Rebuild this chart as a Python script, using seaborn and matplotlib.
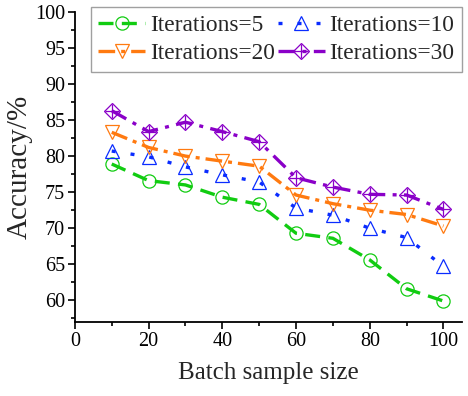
import numpy as np
import pandas as pd
import matplotlib
matplotlib.use("Agg")
import matplotlib.pyplot as plt
import seaborn as sns
from matplotlib.legend_handler import HandlerTuple

batch_size = [10, 20, 30, 40, 50, 60, 70, 80, 90, 100]
acc_iter5 = [78.9, 76.6, 76.0, 74.3, 73.3, 69.3, 68.6, 65.6, 61.6, 59.9]
acc_iter10 = [80.7, 79.9, 78.5, 77.4, 76.4, 72.8, 71.8, 70.0, 68.7, 64.7]
acc_iter20 = [83.3, 81.2, 80.0, 79.3, 78.6, 74.6, 73.4, 72.5, 71.9, 70.3]
acc_iter30 = [86.3, 83.4, 84.7, 83.4, 82.0, 77.0, 75.7, 74.7, 74.6, 72.6]
labels = ["Iterations=5", "Iterations=10", "Iterations=20", "Iterations=30"]

sns.set_style("ticks")
plt.rcParams['font.family'] = ['Liberation Serif', 'DejaVu Serif']

fig = plt.figure(figsize=(4.68, 3.96), dpi=100)
ax = fig.add_axes([0.160, 0.187, 0.827, 0.783])

series = [acc_iter5, acc_iter10, acc_iter20, acc_iter30]
colors = ["#11CC11", "#0A2CFF", "#FF7A10", "#8A00C8"]
markers = ["o", "^", "v", "D"]
msizes = [9.5, 9.5, 9.5, 8]
dashes = [(4.5, 2.5), (1.2, 4.5), (5, 1.8, 1.2, 1.8), (5, 2.2, 1.2, 2.2)]

handles = []
for i, (vals, lab) in enumerate(zip(series, labels)):
    df = pd.DataFrame({"x": batch_size, "y": vals})
    sns.lineplot(data=df, x="x", y="y", ax=ax, color=colors[i], lw=2.4,
                 marker=markers[i], markersize=msizes[i], markerfacecolor="none",
                 markeredgecolor=colors[i], markeredgewidth=0.9,
                 dashes=False, legend=False)
    line = ax.lines[-1]
    line.set_dashes(dashes[i])
    h = line
    if i == 3:
        sns.lineplot(data=df, x="x", y="y", ax=ax, color=colors[i], lw=0,
                     marker="+", markersize=10, markeredgewidth=0.9,
                     markeredgecolor=colors[i], legend=False)
        plus = ax.lines[-1]
        plus.set_linestyle("none")
        h = (line, plus)
    handles.append(h)

ax.set_xlim(0, 105)
ax.set_ylim(57, 100)
ax.set_xticks([0, 20, 40, 60, 80, 100])
ax.set_xticks([10, 30, 50, 70, 90], minor=True)
ax.set_yticks([60, 65, 70, 75, 80, 85, 90, 95, 100])
ax.set_yticks(np.arange(57.5, 100, 5), minor=True)
ax.tick_params(axis="both", which="major", labelsize=14.5, length=5, width=1.2,
               direction="out", color="black", labelcolor="black", pad=2)
ax.tick_params(axis="both", which="minor", length=3, width=1.2, direction="out",
               color="black")
for s in ["left", "bottom"]:
    ax.spines[s].set_linewidth(1.3)
    ax.spines[s].set_color("black")
sns.despine(ax=ax)

ax.set_xlabel("Batch sample size", fontsize=18, labelpad=8)
ax.set_ylabel("Accuracy/%", fontsize=21, labelpad=2)

# row-wise order: (5, 10) on first row, (20, 30) on second row
order = [0, 2, 1, 3]
leg = ax.legend([handles[k] for k in order], [labels[k] for k in order],
                ncol=2, loc="upper right",
                bbox_to_anchor=(1.0, 1.015),
                fontsize=16.8, frameon=True, fancybox=False, edgecolor="#888888",
                handlelength=2.0, handletextpad=0.2, columnspacing=0.15,
                borderpad=0.32, labelspacing=0.3, borderaxespad=0.0,
                handler_map={tuple: HandlerTuple(ndivide=1)})
leg.get_frame().set_linewidth(1.0)

fig.savefig("out.png", dpi=100)
